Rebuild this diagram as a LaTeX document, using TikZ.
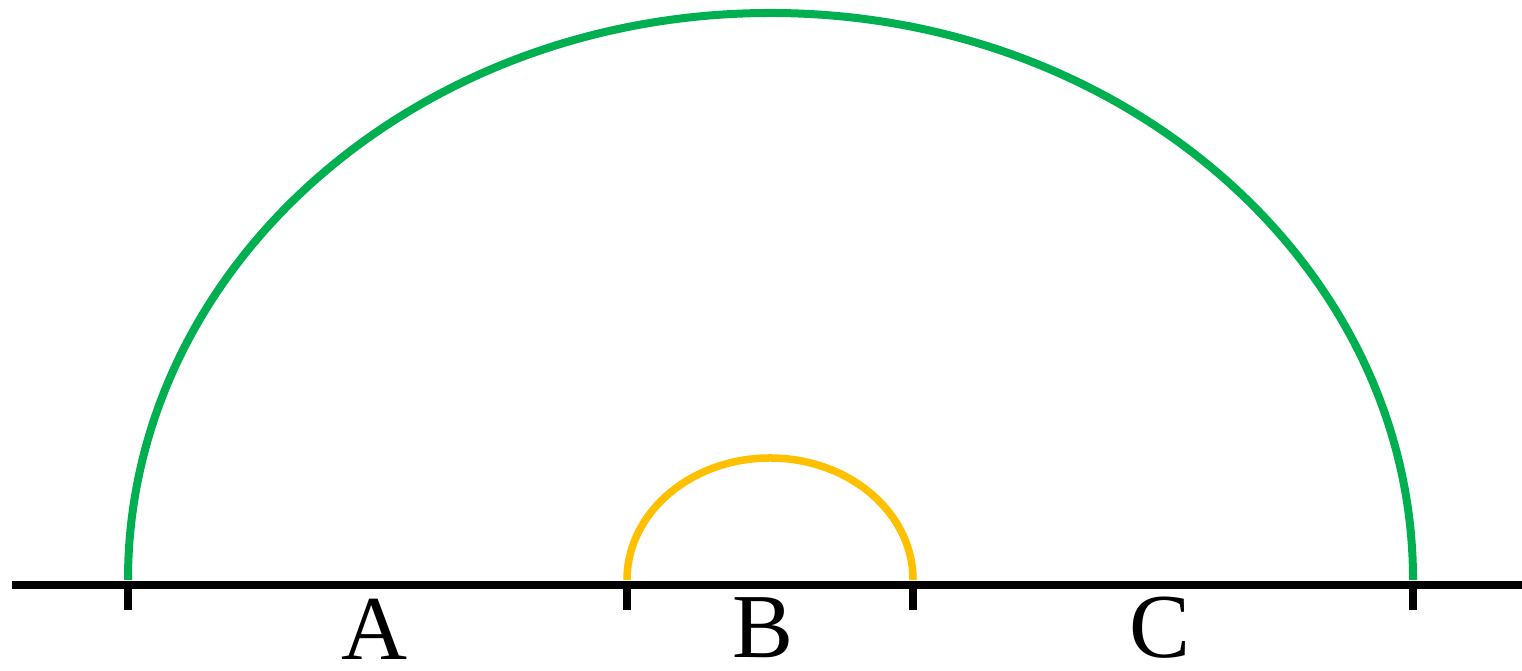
\documentclass[tikz,border=0pt]{standalone}
\usepackage{fontspec}
\setmainfont{Liberation Serif}
\definecolor{arcgreen}{HTML}{00B050}
\definecolor{arcyellow}{HTML}{FFC000}
\begin{document}
\begin{tikzpicture}[x=0.01cm,y=0.01cm,
  baseline/.style={line width=0.08cm, black},
  tick/.style={line width=0.075cm, black},
  bigarc/.style={line width=0.08cm, arcgreen},
  smallarc/.style={line width=0.075cm, arcyellow},
  lbl/.style={font=\fontsize{26}{30}\selectfont, inner sep=0pt}]
\useasboundingbox (0,0) rectangle (1522,671);
% baseline
\coordinate (L) at (12,86);
\coordinate (R) at (1522,86);
\coordinate (t1) at (128,86);
\coordinate (t2) at (627,86);
\coordinate (t3) at (913,86);
\coordinate (t4) at (1413,86);
\coordinate (b1) at (128,61);
\coordinate (b2) at (627,61);
\coordinate (b3) at (913,61);
\coordinate (b4) at (1413,61);
% arcs
\coordinate (gs) at (128,91);
\coordinate (ys) at (627,91);
\draw[bigarc] (gs) arc[start angle=180, end angle=0, x radius=642.5, y radius=567];
\draw[smallarc] (ys) arc[start angle=180, end angle=0, x radius=143, y radius=122];
\draw[baseline] (L) -- (R);
\draw[tick] (t1) -- (b1);
\draw[tick] (t2) -- (b2);
\draw[tick] (t3) -- (b3);
\draw[tick] (t4) -- (b4);
% labels
\node[lbl] (A) at (375,42) {A};
\node[lbl] (B) at (763,43) {B};
\node[lbl] (C) at (1160,43) {C};
\end{tikzpicture}
\end{document}
